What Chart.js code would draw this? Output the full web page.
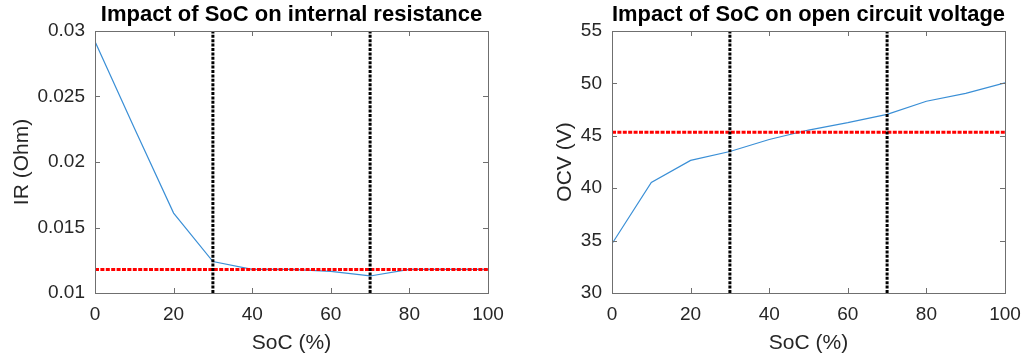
<!DOCTYPE html>
<html>
<head>
<meta charset="utf-8">
<script src="https://cdn.jsdelivr.net/npm/chart.js@4/dist/chart.umd.min.js"></script>
<style>
  html, body { margin: 0; padding: 0; background: #fff; }
  #wrap { position: relative; width: 1024px; height: 362px; }
  canvas { position: absolute; top: 0; }
</style>
</head>
<body>
<div id="wrap">
  <canvas id="irChart" width="512" height="362" style="left:0"></canvas>
  <canvas id="ocvChart" width="512" height="362" style="left:512px"></canvas>
</div>
<script>
// State of charge sample points (%)
const soc = [0, 10, 20, 30, 40, 50, 60, 70, 80, 90, 100];
// Internal resistance (Ohm) at each SoC
const internalResistance = [0.0292, 0.0226, 0.0161, 0.0124, 0.0118, 0.0118, 0.01165, 0.0113, 0.0118, 0.0118, 0.0118];
// Open circuit voltage (V) at each SoC
const openCircuitVoltage = [34.7, 40.55, 42.65, 43.5, 44.65, 45.55, 46.25, 47.05, 48.3, 49.05, 50.05];
// SoC operating window boundaries (%)
const socWindow = [30, 70];
// Reference levels (mean values) drawn as horizontal markers
const irReference = 0.0118;
const ocvReference = 45.35;
// Axis ticks
const socTicks = [0, 20, 40, 60, 80, 100];
const irTicks = [0.01, 0.015, 0.02, 0.025, 0.03];
const irTickLabels = ['0.01', '0.015', '0.02', '0.025', '0.03'];
const ocvTicks = [30, 35, 40, 45, 50, 55];
const ocvTickLabels = ['30', '35', '40', '45', '50', '55'];

const FONT = '"Liberation Sans", Arial, Helvetica, sans-serif';
const TEXT = '#262626';

// Box around the plot area with inward-pointing tick marks on all four sides
const boxTicks = {
  id: 'boxTicks',
  afterDraw(chart) {
    const { ctx, chartArea: a, scales } = chart;
    const len = 5;
    ctx.save();
    ctx.strokeStyle = '#6f6f6f';
    ctx.lineWidth = 1;
    ctx.beginPath();
    scales.x.ticks.forEach(t => {
      const px = Math.round(scales.x.getPixelForValue(t.value)) + 0.5;
      ctx.moveTo(px, a.bottom); ctx.lineTo(px, a.bottom - len);
      ctx.moveTo(px, a.top); ctx.lineTo(px, a.top + len);
    });
    scales.y.ticks.forEach(t => {
      const py = Math.round(scales.y.getPixelForValue(t.value)) + 0.5;
      ctx.moveTo(a.left, py); ctx.lineTo(a.left + len, py);
      ctx.moveTo(a.right, py); ctx.lineTo(a.right - len, py);
    });
    ctx.stroke();
    ctx.strokeRect(Math.round(a.left) + 0.5, Math.round(a.top) + 0.5,
                   Math.round(a.right - a.left), Math.round(a.bottom - a.top));
    ctx.restore();
  }
};

function makeChart(id, cfg) {
  const curve = soc.map((s, i) => ({ x: s, y: cfg.values[i] }));
  const windowSets = socWindow.map(b => ({
    data: [{ x: b, y: cfg.yMin }, { x: b, y: cfg.yMax }],
    borderColor: '#000000',
    borderWidth: 3,
    borderDash: [3, 1.4],
    pointRadius: 0,
    order: 1
  }));
  return new Chart(document.getElementById(id), {
    type: 'line',
    data: {
      datasets: [
        {
          data: curve,
          borderColor: '#3a8fd6',
          borderWidth: 1.2,
          pointRadius: 0,
          tension: 0,
          order: 3
        },
        {
          data: [{ x: 0, y: cfg.reference }, { x: 100, y: cfg.reference }],
          borderColor: '#ff0000',
          borderWidth: 3,
          borderDash: [4, 1.4],
          pointRadius: 0,
          order: 2
        },
        ...windowSets
      ]
    },
    options: {
      responsive: false,
      animation: false,
      events: [],
      layout: { padding: { left: 0, right: cfg.padRight, top: 0, bottom: 0 } },
      plugins: {
        legend: { display: false },
        tooltip: { enabled: false },
        title: {
          display: true,
          text: cfg.title,
          fullSize: false,
          color: '#000000',
          font: { family: FONT, size: 22, weight: 'bold' },
          padding: { top: 1.5, bottom: 3.1 }
        }
      },
      scales: {
        x: {
          type: 'linear',
          min: 0, max: 100,
          afterBuildTicks: s => { s.ticks = socTicks.map(v => ({ value: v })); },
          afterFit: s => { s.height = 69; s.paddingLeft = 0; s.paddingRight = 0; },
          grid: { display: false, drawTicks: false },
          border: { display: false },
          ticks: {
            color: TEXT,
            padding: 10,
            maxRotation: 0,
            font: { family: FONT, size: 19 },
            callback: v => String(v)
          },
          title: {
            display: true,
            text: 'SoC (%)',
            color: TEXT,
            font: { family: FONT, size: 21 },
            padding: { top: 0, bottom: 6.4 }
          }
        },
        y: {
          type: 'linear',
          min: cfg.yMin, max: cfg.yMax,
          afterBuildTicks: s => { s.ticks = cfg.ticks.map(v => ({ value: v })); },
          afterFit: s => { s.width = cfg.left; s.paddingTop = 0; s.paddingBottom = 0; },
          grid: { display: false, drawTicks: false },
          border: { display: false },
          ticks: {
            color: TEXT,
            padding: 10,
            font: { family: FONT, size: 19 },
            callback: v => cfg.tickLabels[cfg.ticks.indexOf(v)] ?? ''
          },
          title: {
            display: true,
            text: cfg.yTitle,
            color: TEXT,
            font: { family: FONT, size: 21 },
            padding: { top: cfg.yTitlePad, bottom: cfg.yTitlePad }
          }
        }
      }
    },
    plugins: [boxTicks]
  });
}

makeChart('irChart', {
  title: 'Impact of SoC on internal resistance',
  yTitle: 'IR (Ohm)',
  values: internalResistance,
  reference: irReference,
  yMin: 0.01, yMax: 0.03,
  ticks: irTicks, tickLabels: irTickLabels,
  left: 95, padRight: 24, yTitlePad: 9.4
});

makeChart('ocvChart', {
  title: 'Impact of SoC on open circuit voltage',
  yTitle: 'OCV (V)',
  values: openCircuitVoltage,
  reference: ocvReference,
  yMin: 30, yMax: 55,
  ticks: ocvTicks, tickLabels: ocvTickLabels,
  left: 100, padRight: 19, yTitlePad: 40.4
});
</script>
</body>
</html>
